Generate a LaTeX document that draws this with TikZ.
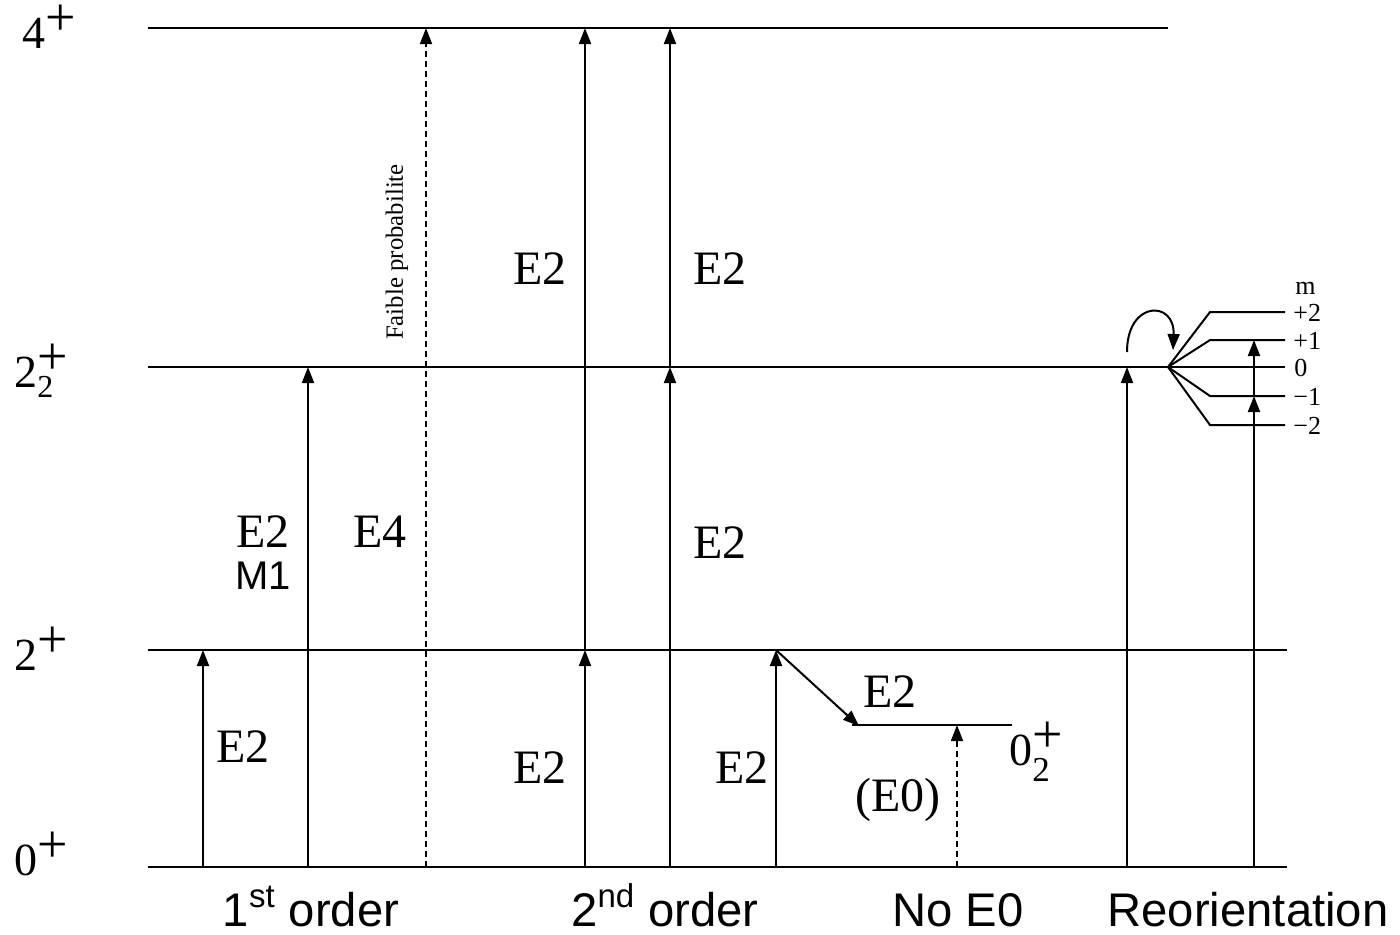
\documentclass[tikz,border=0pt]{standalone}
\usepackage{fontspec}
\setmainfont{Liberation Serif}
\newfontfamily\arialf{Liberation Sans}
\usetikzlibrary{arrows.meta}
\newcommand\lvlsup[1]{#1\raisebox{6.3pt}{\fontsize{27}{27}\selectfont +}}
\newcommand\lvlsupsub[4]{#1\rlap{\raisebox{-#3}{\fontsize{#4}{#4}\selectfont #2}}\raisebox{6.3pt}{\fontsize{27}{27}\selectfont +}}
\tikzset{
 lvl/.style={line width=1pt},
 arr/.style={line width=1pt,-{Triangle[length=8pt,width=6pt]}},
 darr/.style={line width=0.8pt,dash pattern=on 3pt off 2pt,-{Triangle[length=8pt,width=6pt]}},
 lab/.style={font=\fontsize{24}{28}\selectfont, inner sep=0pt},
 lvllab/.style={font=\fontsize{23}{28}\selectfont, inner sep=0pt, anchor=base west},
 sans/.style={font=\arialf\fontsize{23.6}{28}\selectfont, inner sep=0pt, anchor=base},
 msans/.style={font=\arialf\fontsize{20}{24}\selectfont, inner sep=0pt},
 mlab/.style={font=\fontsize{13}{15}\selectfont, inner sep=0pt, anchor=west},
 rot/.style={font=\fontsize{12.4}{14}\selectfont, inner sep=0pt, rotate=90},
}
\begin{document}
\begin{tikzpicture}[x=0.5pt,y=-0.5pt]
\useasboundingbox (0,0) rectangle (1400,934);
% level lines
\coordinate (L4a) at (148,28);   \coordinate (L4b) at (1168,28);
\coordinate (L22a) at (148,367); \coordinate (L22b) at (1285,367);
\coordinate (L2a) at (148,650);  \coordinate (L2b) at (1287,650);
\coordinate (L0a) at (148,867);  \coordinate (L0b) at (1287,867);
\coordinate (L02a) at (852,725); \coordinate (L02b) at (1012,725);
\draw[lvl] (L4a) -- (L4b);
\draw[lvl] (L22a) -- (L22b);
\draw[lvl] (L2a) -- (L2b);
\draw[lvl] (L0a) -- (L0b);
\draw[lvl] (L02a) -- (L02b);
% fan of m sublevels
\coordinate (F) at (1168,367);
\coordinate (mp2a) at (1210,312); \coordinate (mp2b) at (1285,312);
\coordinate (mp1a) at (1210,340); \coordinate (mp1b) at (1285,340);
\coordinate (mm1a) at (1210,396); \coordinate (mm1b) at (1285,396);
\coordinate (mm2a) at (1210,425); \coordinate (mm2b) at (1285,425);
\draw[lvl] (F) -- (mp2a) -- (mp2b);
\draw[lvl] (F) -- (mp1a) -- (mp1b);
\draw[lvl] (F) -- (mm1a) -- (mm1b);
\draw[lvl] (F) -- (mm2a) -- (mm2b);
% level labels
\node[lvllab] (t4) at (22,48) {\lvlsup{4}};
\node[lvllab] (t22) at (14,387) {\lvlsupsub{2}{2}{5pt}{16}};
\node[lvllab] (t2) at (14,670) {\lvlsup{2}};
\node[lvllab] (t0) at (14,875) {\lvlsup{0}};
\node[lvllab] (t02) at (1009,765) {\lvlsupsub{0}{2}{8pt}{17.5}};
% m labels
\node[mlab] (mm) at (1295,288) {m};
\node[mlab] (m2) at (1293,313) {+2};
\node[mlab] (m1) at (1293,341) {+1};
\node[mlab] (m0) at (1294,368) {0};
\node[mlab] (mn1) at (1293,397) {−1};
\node[mlab] (mn2) at (1293,426) {−2};
% arrows, 1st order
\coordinate (a1s) at (203,867); \coordinate (a1e) at (203,650);
\draw[arr] (a1s) -- (a1e);
\coordinate (a2s) at (308,867); \coordinate (a2e) at (308,367);
\draw[arr] (a2s) -- (a2e);
\coordinate (a3s) at (426,867); \coordinate (a3e) at (426,28);
\draw[darr] (a3s) -- (a3e);
% 2nd order
\coordinate (b1s) at (585,867); \coordinate (b1m) at (585,650); \coordinate (b1e) at (585,28);
\draw[arr] (b1s) -- (b1m);
\draw[arr] (b1m) -- (b1e);
\coordinate (b2s) at (670,867); \coordinate (b2m) at (670,367); \coordinate (b2e) at (670,28);
\draw[arr] (b2s) -- (b2m);
\draw[arr] (b2m) -- (b2e);
% No E0
\coordinate (c1s) at (776,867); \coordinate (c1e) at (776,650);
\draw[arr] (c1s) -- (c1e);
\coordinate (c2e) at (859,726);
\draw[arr] (c1e) -- (c2e);
\coordinate (c3s) at (957,867); \coordinate (c3e) at (957,725);
\draw[darr] (c3s) -- (c3e);
% Reorientation
\coordinate (d1s) at (1127,867); \coordinate (d1e) at (1127,367);
\draw[arr] (d1s) -- (d1e);
\coordinate (cu1) at (1127,352); \coordinate (cu2) at (1173,350);
\draw[arr] (cu1) .. controls (1127,300) and (1175,300) .. (cu2);
\coordinate (d2s) at (1254,867); \coordinate (d2m) at (1254,396); \coordinate (d2e) at (1254,340);
\draw[arr] (d2s) -- (d2m);
\draw[arr] (d2m) -- (d2e);
% transition labels
\node[lab] (e1) at (243,747) {E2};
\node[lab] (e2) at (263,532) {E2};
\node[msans] (m1l) at (263,576) {M1};
\node[lab] (e4) at (380,532) {E4};
\node[rot] (fp) at (397,252) {Faible probabilite};
\node[lab] (e5) at (540,269) {E2};
\node[lab] (e6) at (720,269) {E2};
\node[lab] (e7) at (720,543) {E2};
\node[lab] (e8) at (540,768) {E2};
\node[lab] (e9) at (742,768) {E2};
\node[lab] (e10) at (890,692) {E2};
\node[lab] (e0) at (898,800) {(E0)};
% bottom labels
\node[sans] (o1) at (311,926) {1\textsuperscript{st} order};
\node[sans] (o2) at (665,926) {2\textsuperscript{nd} order};
\node[sans] (o3) at (958,926) {No E0};
\node[sans] (o4) at (1248,926) {Reorientation};
\end{tikzpicture}
\end{document}
